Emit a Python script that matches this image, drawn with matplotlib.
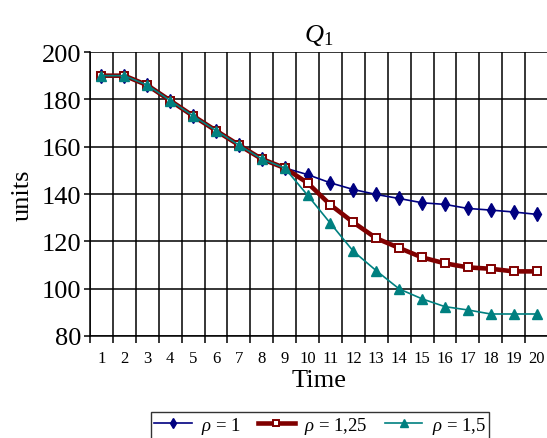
import matplotlib
matplotlib.use("Agg")
import matplotlib.pyplot as plt
import numpy as np

plt.rcParams['font.family'] = ['Liberation Serif', 'DejaVu Serif']
plt.rcParams['mathtext.fontset'] = 'custom'
plt.rcParams['mathtext.rm'] = 'Liberation Serif'
plt.rcParams['mathtext.it'] = 'Liberation Serif:italic'

time = list(range(1, 21))
rho_1 = [190, 190, 186, 179.5, 173, 166.8, 160.7, 154.8, 151,
         148.2, 144.7, 141.9, 139.8, 138.1, 136.3, 135.6, 133.9, 133.2, 132.4, 131.4]
rho_125 = [190, 190, 186, 179.5, 173, 166.8, 160.7, 154.8, 151,
           144.7, 135.4, 128.0, 121.3, 117.2, 113.2, 110.7, 109.0, 108.4, 107.3, 107.3]
rho_15 = [190, 190, 186, 179.5, 173, 166.8, 160.7, 154.8, 151,
          139.5, 127.6, 115.8, 107.6, 99.9, 95.7, 92.4, 91.0, 89.3, 89.3, 89.3]
labels = [r'$\rho$ = 1', r'$\rho$ = 1,25', r'$\rho$ = 1,5']

fig = plt.figure(figsize=(5.47, 4.39), dpi=100)
ax = fig.add_axes([90/547, 1-337/439, 458/547, (337-53)/439])

ax.plot(time, rho_1, color='#000080', lw=1.2, marker='d', ms=7,
        mfc='#000080', mec='#000080', label=labels[0], zorder=3)
ax.plot(time, rho_125, color='#800000', lw=3.3, marker='s', ms=5.5,
        mfc='white', mec='#800000', mew=1.4, label=labels[1], zorder=4)
ax.plot(time, rho_15, color='#008080', lw=1.2, marker='^', ms=7,
        mfc='#008080', mec='#008080', label=labels[2], zorder=5)

ax.set_xlim(0.5, 20.5)
ax.set_ylim(80, 200)
ax.set_yticks(np.arange(80, 201, 20))
ax.set_xticks(time)
ax.set_xticks(np.arange(0.5, 20.6, 1), minor=True)
ax.tick_params(axis='x', which='major', length=0, labelsize=12, pad=10)
ax.tick_params(axis='x', which='minor', length=5, width=1.1, direction='out')
ax.tick_params(axis='y', which='major', length=4, width=1.1, direction='out', labelsize=19, pad=2)
ax.grid(True, axis='y', which='major', color='black', lw=1.1)
ax.grid(True, axis='x', which='minor', color='black', lw=1.1)
ax.set_axisbelow(True)
for s in ['top', 'right']:
    ax.spines[s].set_visible(False)
for s in ['left', 'bottom']:
    ax.spines[s].set_linewidth(1.1)

ax.set_xlabel('Time', fontsize=19, labelpad=2)
ax.set_ylabel('units', fontsize=19, labelpad=6)
ax.set_title(r'$Q_1$', fontsize=19, pad=8)

leg = fig.legend(loc='upper center', bbox_to_anchor=(320/547, 1-413/439), ncol=3,
                 fontsize=13.5, frameon=True, fancybox=False, edgecolor='black',
                 handlelength=2.0, columnspacing=0.9, handletextpad=0.5,
                 borderpad=0.15, borderaxespad=0, markerscale=0.8)
leg.get_frame().set_linewidth(1.0)

fig.savefig('out.png', dpi=100)
